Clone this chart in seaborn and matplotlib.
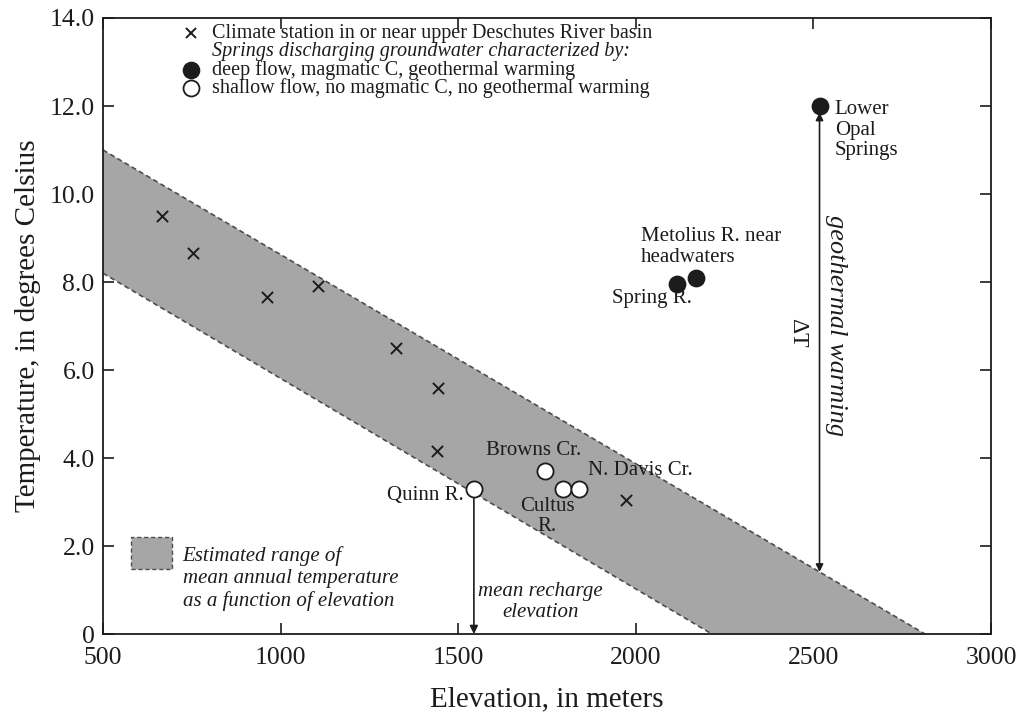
import numpy as np
import matplotlib
matplotlib.use("Agg")
import matplotlib.pyplot as plt
import seaborn as sns
from matplotlib.patches import Rectangle, Polygon

# Climate stations in or near the upper Deschutes River basin
station_elev = [665, 752, 963, 1106, 1324, 1442, 1440, 1971]
station_temp = [9.5, 8.65, 7.65, 7.9, 6.5, 5.6, 4.15, 3.05]

# Springs with deep flow, magmatic carbon, geothermal warming
deep_names = ["Spring R.", "Metolius R. near\nheadwaters", "Lower\nOpal\nSprings"]
deep_elev = [2116, 2170, 2517]
deep_temp = [7.95, 8.1, 12.0]

# Springs with shallow flow, no magmatic carbon, no geothermal warming
shallow_names = ["Quinn R.", "Browns Cr.", "Cultus\nR.", "N. Davis Cr."]
shallow_elev = [1544, 1745, 1794, 1839]
shallow_temp = [3.3, 3.7, 3.3, 3.3]

# Estimated range of mean annual temperature vs elevation (edges of the band)
band_upper_elev = [500, 2814]
band_upper_temp = [11.0, 0.0]
band_lower_elev = [500, 2214]
band_lower_temp = [8.2, 0.0]

x_ticks = [500, 1000, 1500, 2000, 2500, 3000]
x_tick_labels = ["500", "1000", "1500", "2000", "2500", "3000"]
y_ticks = [0, 2, 4, 6, 8, 10, 12, 14]
y_tick_labels = ["0", "2.0", "4.0", "6.0", "8.0", "10.0", "12.0", "14.0"]

sns.set_theme(style="ticks")
plt.rcParams["font.family"] = ["Liberation Serif", "DejaVu Serif"]

INK = "#1c1c1c"
BAND = "#a6a6a6"
BAND_EDGE = "#4d4d4d"

fig, ax = plt.subplots(figsize=(10.16, 7.2), dpi=100)
fig.subplots_adjust(left=0.1014, right=0.9755, bottom=0.1194, top=0.975)

# Shaded temperature band with dashed edges
band_poly = list(zip(band_upper_elev, band_upper_temp)) + \
    list(zip(band_lower_elev[::-1], band_lower_temp[::-1]))
ax.add_patch(Polygon(band_poly, closed=True, facecolor=BAND, edgecolor="none", zorder=1))
sns.lineplot(x=band_upper_elev, y=band_upper_temp, ax=ax, color=BAND_EDGE,
             linewidth=1.2, zorder=2)
sns.lineplot(x=band_lower_elev, y=band_lower_temp, ax=ax, color=BAND_EDGE,
             linewidth=1.2, zorder=2)
for line in ax.lines:
    line.set_dashes((3, 2))

# Station and spring markers
sns.scatterplot(x=station_elev, y=station_temp, marker="x", s=65, color=INK,
                linewidth=1.4, ax=ax, zorder=4)
sns.scatterplot(x=deep_elev, y=deep_temp, marker="o", s=135, color=INK,
                edgecolor=INK, linewidth=1.2, ax=ax, zorder=5)
sns.scatterplot(x=shallow_elev, y=shallow_temp, marker="o", s=135, color="white",
                edgecolor=INK, linewidth=1.3, ax=ax, zorder=5)

lab_fs = 15
# Spring labels, offset from each marker in points
deep_offsets = [((11, -10), "right", "center"),
                ((-40, 22), "left", "center"),
                ((11, 4), "left", "top")]
for name, e, t, (off, ha, va) in zip(deep_names, deep_elev, deep_temp, deep_offsets):
    ax.annotate(name, (e, t), xytext=off, textcoords="offset points", ha=ha, va=va,
                fontsize=lab_fs, color=INK, linespacing=1.1, zorder=6)

shallow_offsets = [((-7, -5), "right", "center"),
                   ((-8.5, 15), "center", "center"),
                   ((-11, -20), "center", "center"),
                   ((7, 13), "left", "center")]
for name, e, t, (off, ha, va) in zip(shallow_names, shallow_elev, shallow_temp, shallow_offsets):
    ax.annotate(name, (e, t), xytext=off, textcoords="offset points", ha=ha, va=va,
                fontsize=lab_fs, color=INK, linespacing=1.05, zorder=6)

# Mean recharge elevation arrow from Quinn R. down to the axis
ax.annotate("", xy=(shallow_elev[0], 0), xytext=(shallow_elev[0], shallow_temp[0]),
            arrowprops=dict(arrowstyle="-|>", color=INK, lw=1.2, shrinkA=6, shrinkB=0,
                            mutation_scale=12), zorder=3)
ax.text(1732, 0.73, "mean recharge\nelevation", style="italic", fontsize=lab_fs,
        ha="center", va="center", color=INK, linespacing=1.15)

# Geothermal warming (delta T) arrow at Lower Opal Springs
opal_elev = deep_elev[2]
opal_base = float(np.interp(opal_elev, band_upper_elev, band_upper_temp))
ax.annotate("", xy=(opal_elev, deep_temp[2] - 0.15), xytext=(opal_elev, opal_base),
            arrowprops=dict(arrowstyle="<|-|>", color=INK, lw=1.2, shrinkA=0, shrinkB=0,
                            mutation_scale=11), zorder=3)
ax.text(2563, 7.0, "geothermal warming", style="italic", fontsize=19, rotation=270,
        ha="center", va="center", color=INK)
ax.text(2456, 6.84, "\u0394T", fontsize=17, rotation=270, ha="center", va="center", color=INK)

# Legend block (top left)
leg_x_mark, leg_x_text = 0.0989, 0.1225
rows = [0.975, 0.946, 0.915, 0.886]
ax.plot([leg_x_mark], [rows[0]], marker="x", ms=7.5, mew=1.4, color=INK,
        transform=ax.transAxes, linestyle="none")
ax.plot([leg_x_mark], [rows[2]], marker="o", ms=11.5, mew=1.2, color=INK, mec=INK,
        transform=ax.transAxes, linestyle="none")
ax.plot([leg_x_mark], [rows[3]], marker="o", ms=11.5, mew=1.3, mfc="white", mec=INK,
        transform=ax.transAxes, linestyle="none")
legend_lines = [
    ("Climate station in or near upper Deschutes River basin", "normal"),
    ("Springs discharging groundwater characterized by:", "italic"),
    ("deep flow, magmatic C, geothermal warming", "normal"),
    ("shallow flow, no magmatic C, no geothermal warming", "normal"),
]
for (txt, st), y in zip(legend_lines, rows):
    ax.text(leg_x_text, y, txt, style=st, fontsize=14.5, color=INK,
            ha="left", va="center", transform=ax.transAxes)

# Band legend (bottom left)
ax.add_patch(Rectangle((0.031, 0.1055), 0.047, 0.0515, transform=ax.transAxes,
                       facecolor=BAND, edgecolor=BAND_EDGE, linestyle=(0, (3, 2)),
                       linewidth=1.0, zorder=3))
ax.text(0.0896, 0.0905, "Estimated range of\nmean annual temperature\nas a function of elevation",
        style="italic", fontsize=lab_fs, color=INK, ha="left", va="center",
        linespacing=1.2, transform=ax.transAxes)

# Axes, ticks and labels
ax.set_xlim(500, 3000)
ax.set_ylim(0, 14)
ax.set_xticks(x_ticks)
ax.set_xticklabels(x_tick_labels)
ax.set_yticks(y_ticks)
ax.set_yticklabels(y_tick_labels)
ax.tick_params(direction="in", length=8, width=1.2, color=INK, labelcolor=INK,
               labelsize=18.5, top=True, right=True)
ax.tick_params(axis="x", pad=9)
ax.tick_params(axis="y", pad=6)
for sp in ax.spines.values():
    sp.set_linewidth(1.3)
    sp.set_color(INK)
ax.set_xlabel("Elevation, in meters", fontsize=21, color=INK, labelpad=13)
ax.set_ylabel("Temperature, in degrees Celsius", fontsize=21, color=INK, labelpad=6)

fig.savefig("out.png", dpi=100, facecolor="white")
